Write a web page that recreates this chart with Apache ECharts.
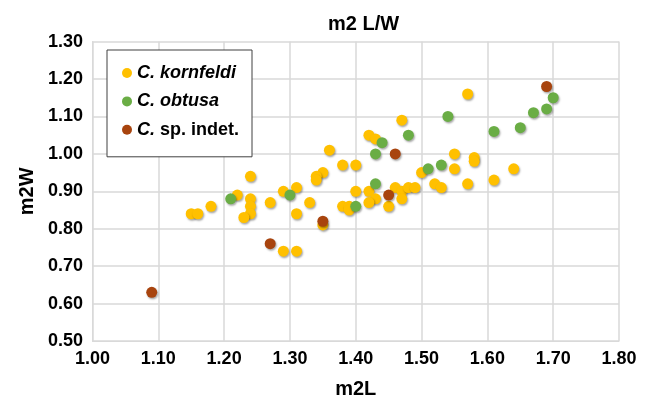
<!DOCTYPE html>
<html><head><meta charset="utf-8">
<script src="https://cdn.jsdelivr.net/npm/echarts@6/dist/echarts.min.js"></script>
<style>html,body{margin:0;padding:0;background:#fff}#c{width:651px;height:398px}</style>
</head><body><div id="c"></div>
<script>
var seriesNames = ['C. kornfeldi', 'C. obtusa', 'C. sp. indet.'];
var kornfeldi = [
 [1.24,0.94],[1.22,0.89],[1.24,0.88],[1.24,0.86],[1.24,0.84],[1.23,0.83],[1.18,0.86],[1.15,0.84],[1.16,0.84],
 [1.27,0.87],[1.29,0.90],[1.31,0.91],[1.31,0.84],[1.29,0.74],[1.31,0.74],
 [1.57,1.16],[1.47,1.09],[1.42,1.05],[1.43,1.04],[1.36,1.01],[1.38,0.97],[1.40,0.97],[1.35,0.95],[1.34,0.94],
 [1.34,0.93],[1.33,0.87],[1.35,0.81],[1.40,0.90],[1.42,0.90],[1.43,0.88],[1.42,0.87],[1.38,0.86],[1.39,0.86],
 [1.39,0.85],[1.45,0.86],[1.46,0.91],[1.47,0.90],[1.47,0.88],[1.48,0.91],[1.49,0.91],[1.50,0.95],[1.55,1.00],
 [1.55,0.96],[1.52,0.92],[1.53,0.91],[1.58,0.99],[1.58,0.98],[1.64,0.96],[1.61,0.93],[1.57,0.92]
];
var obtusa = [
 [1.21,0.88],[1.30,0.89],[1.54,1.10],[1.44,1.03],[1.48,1.05],[1.43,1.00],[1.43,0.92],[1.40,0.86],
 [1.51,0.96],[1.53,0.97],[1.70,1.15],[1.69,1.12],[1.67,1.11],[1.65,1.07],[1.61,1.06]
];
var indet = [[1.09,0.63],[1.27,0.76],[1.35,0.82],[1.45,0.89],[1.46,1.00],[1.69,1.18]];
var xTicks = [1.0,1.1,1.2,1.3,1.4,1.5,1.6,1.7,1.8];
var yTicks = [0.5,0.6,0.7,0.8,0.9,1.0,1.1,1.2,1.3];

var colors = ['#FFC000','#6AAD45','#A8440E'];
var font = '"Liberation Sans", Arial, sans-serif';
var chart = echarts.init(document.getElementById('c'), null, {renderer:'canvas'});
function mk(name, data, color, z){
  return {name:name, type:'scatter', data:data, symbol:'circle', symbolSize:11, z:z,
    itemStyle:{color:color, opacity:1, shadowColor:'rgba(0,0,0,0.35)', shadowBlur:2, shadowOffsetX:1, shadowOffsetY:1.5}};
}
function fmt2(v){ return v.toFixed(2); }
chart.setOption({
  animation:false,
  title:{text:'m2 L/W', left:323, top:9, textStyle:{fontFamily:font, fontSize:20, fontWeight:'bold', color:'#000'}},
  grid:{left:92.5, right:32, top:41.6, bottom:57, containLabel:false, outerBoundsMode:'none'},
  legend:{
    orient:'vertical', left:107, top:50, padding:[13,13,17,15], itemGap:8.4,
    borderColor:'#404040', borderWidth:1, backgroundColor:'#fff',
    icon:'circle', itemWidth:10, itemHeight:10,
    data:seriesNames,
    formatter:function(n){ return n==='C. sp. indet.' ? '{i|C.}{n| sp. indet.}' : '{i|'+n+'}'; },
    textStyle:{fontFamily:font, fontSize:18, lineHeight:20, color:'#000',
      rich:{i:{fontFamily:font, fontSize:18, lineHeight:20, fontWeight:'bold', fontStyle:'italic', color:'#000'},
            n:{fontFamily:font, fontSize:18, lineHeight:20, fontWeight:'bold', color:'#000'}}}
  },
  xAxis:{type:'value', min:xTicks[0], max:xTicks[xTicks.length-1], interval:0.1, name:'m2L', nameLocation:'middle', nameGap:38,
    nameTextStyle:{fontFamily:font, fontSize:20, fontWeight:'bold', color:'#000'},
    axisLine:{show:true, lineStyle:{color:'#d9d9d9'}}, axisTick:{show:false},
    axisLabel:{fontFamily:font, fontSize:18, fontWeight:'bold', color:'#000', margin:9, formatter:fmt2},
    splitLine:{show:true, lineStyle:{color:'#d9d9d9', width:1.5}}},
  yAxis:{type:'value', min:yTicks[0], max:yTicks[yTicks.length-1], interval:0.1, name:'m2W', nameLocation:'middle', nameGap:52, nameRotate:90,
    nameTextStyle:{fontFamily:font, fontSize:20, fontWeight:'bold', color:'#000'},
    axisLine:{show:true, lineStyle:{color:'#d9d9d9'}}, axisTick:{show:false},
    axisLabel:{fontFamily:font, fontSize:18, fontWeight:'bold', color:'#000', margin:9.5, formatter:fmt2},
    splitLine:{show:true, lineStyle:{color:'#d9d9d9', width:1.5}}},
  series:[mk(seriesNames[0], kornfeldi, colors[0], 2), mk(seriesNames[1], obtusa, colors[1], 3), mk(seriesNames[2], indet, colors[2], 4)]
});
</script></body></html>
